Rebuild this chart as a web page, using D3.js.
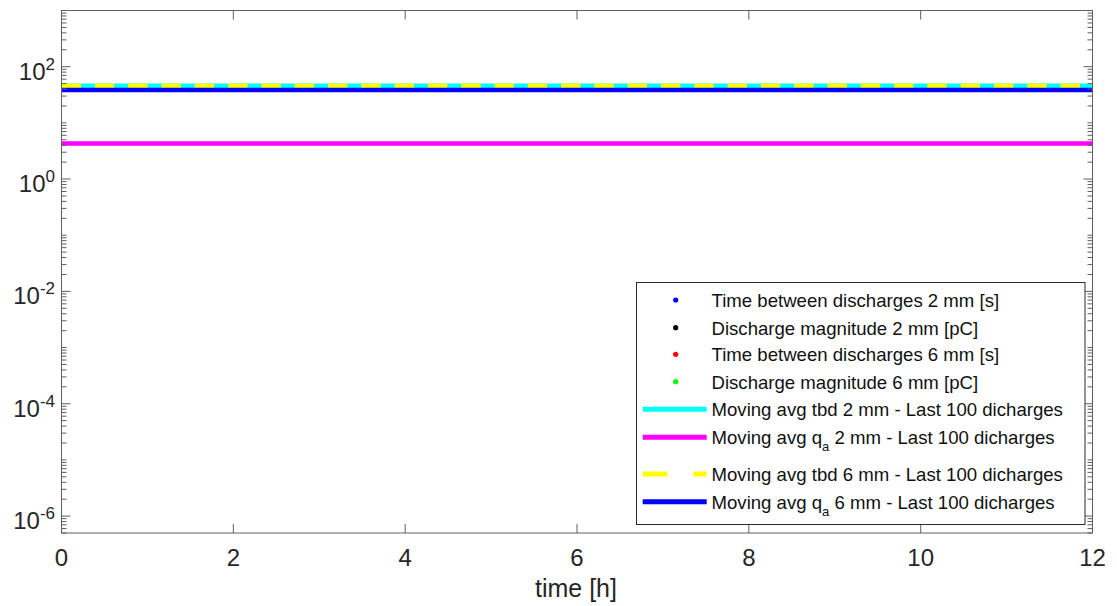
<!DOCTYPE html>
<html>
<head>
<meta charset="utf-8">
<script src="https://cdn.jsdelivr.net/npm/d3@7"></script>
<style>
  body { margin: 0; background: #fff; }
  svg { display: block; font-family: "Liberation Sans", Arial, sans-serif; }
</style>
</head>
<body>
<div id="chart"></div>
<script>
// Data
const timeHours = [0, 12];
const tbd2mm = [];          // scatter series, no visible points
const q2mm = [];
const tbd6mm = [];
const q6mm = [];
const avgTbd2mm = [45.9, 45.9];
const avgQa2mm = [4.27, 4.27];
const avgTbd6mm = [45.9, 45.9];
const avgQa6mm = [38.5, 38.5];

const xTickValues = [0, 2, 4, 6, 8, 10, 12];
const yTickExponents = [-6, -4, -2, 0, 2];
const yDomain = [5e-7, 1e3];

const legendLabels = [
  "Time between discharges 2 mm [s]",
  "Discharge magnitude 2 mm [pC]",
  "Time between discharges 6 mm [s]",
  "Discharge magnitude 6 mm [pC]",
  "Moving avg tbd 2 mm - Last 100 dicharges",
  "Moving avg q_a 2 mm - Last 100 dicharges",
  "Moving avg tbd 6 mm - Last 100 dicharges",
  "Moving avg q_a 6 mm - Last 100 dicharges"
];

// Chart config
const config = {
  width: 1117,
  height: 606,
  left: 61.5, right: 1092.5, top: 10.5, bottom: 533
};

const svg = d3.select('#chart')
  .append('svg')
  .attr('width', config.width)
  .attr('height', config.height);

const x = d3.scaleLinear().domain([0, 12]).range([config.left, config.right]);
const y = d3.scaleLog().domain(yDomain).range([config.bottom, config.top]);

// series: data + style
const series = [
  { name: legendLabels[0], values: tbd2mm, type: 'dot', color: '#0000ff' },
  { name: legendLabels[1], values: q2mm, type: 'dot', color: '#000000' },
  { name: legendLabels[2], values: tbd6mm, type: 'dot', color: '#ff0000' },
  { name: legendLabels[3], values: q6mm, type: 'dot', color: '#00ff00' },
  { name: legendLabels[4], values: avgTbd2mm, type: 'line', color: '#00ffff' },
  { name: legendLabels[5], values: avgQa2mm, type: 'line', color: '#ff00ff' },
  { name: legendLabels[6], values: avgTbd6mm, type: 'dash', color: '#ffff00' },
  { name: legendLabels[7], values: avgQa6mm, type: 'line', color: '#0000ff' }
];

const plot = svg.append('g');

plot.append('clipPath').attr('id', 'clip')
  .append('rect')
  .attr('x', config.left).attr('y', config.top)
  .attr('width', config.right - config.left)
  .attr('height', config.bottom - config.top);

const lineGen = d3.line()
  .x((d, i) => x(timeHours[i]))
  .y(d => y(d));

const marks = plot.append('g').attr('clip-path', 'url(#clip)');

series.forEach(s => {
  if (s.type === 'dot') {
    marks.selectAll(null)
      .data(s.values)
      .enter()
      .append('circle')
      .attr('cx', d => x(d[0]))
      .attr('cy', d => y(d[1]))
      .attr('r', 2.5)
      .attr('fill', s.color);
  } else {
    marks.append('path')
      .datum(s.values)
      .attr('d', lineGen)
      .attr('fill', 'none')
      .attr('stroke', s.color)
      .attr('stroke-width', 4.5)
      .attr('stroke-dasharray', s.type === 'dash' ? '19.5,13.8' : null);
  }
});

// axes box
const axisColor = '#5f5f5f';
const textColor = '#262626';

plot.append('rect')
  .attr('x', config.left).attr('y', config.top)
  .attr('width', config.right - config.left)
  .attr('height', config.bottom - config.top)
  .attr('fill', 'none')
  .attr('stroke', axisColor)
  .attr('stroke-width', 1);

// x ticks (inside, bottom and top)
const majorLen = 9, minorLen = 5;
const xt = plot.append('g').attr('stroke', axisColor).attr('stroke-width', 1);
xTickValues.forEach(v => {
  xt.append('line').attr('x1', x(v)).attr('x2', x(v))
    .attr('y1', config.bottom).attr('y2', config.bottom - majorLen);
  xt.append('line').attr('x1', x(v)).attr('x2', x(v))
    .attr('y1', config.top).attr('y2', config.top + majorLen);
});

plot.append('g').selectAll('text')
  .data(xTickValues)
  .enter()
  .append('text')
  .attr('x', d => x(d))
  .attr('y', 565.5)
  .attr('text-anchor', 'middle')
  .attr('fill', textColor)
  .style('font-size', '24px')
  .text(d => d);

// y ticks (log, inside, left and right)
const yMajor = yTickExponents.map(e => Math.pow(10, e));
const yMinor = y.ticks().filter(v => {
  const isMajor = yMajor.some(m => Math.abs(v - m) / m < 1e-9);
  return !isMajor && v >= yDomain[0] && v <= yDomain[1];
});

const yt = plot.append('g').attr('stroke', axisColor).attr('stroke-width', 1);
yMinor.forEach(v => {
  yt.append('line').attr('x1', config.left).attr('x2', config.left + minorLen)
    .attr('y1', y(v)).attr('y2', y(v));
  yt.append('line').attr('x1', config.right).attr('x2', config.right - minorLen)
    .attr('y1', y(v)).attr('y2', y(v));
});
yMajor.forEach(v => {
  yt.append('line').attr('x1', config.left).attr('x2', config.left + majorLen)
    .attr('y1', y(v)).attr('y2', y(v));
  yt.append('line').attr('x1', config.right).attr('x2', config.right - majorLen)
    .attr('y1', y(v)).attr('y2', y(v));
});

const yLabels = plot.append('g').selectAll('text')
  .data(yTickExponents)
  .enter()
  .append('text')
  .attr('x', 55)
  .attr('y', d => y(Math.pow(10, d)) + 13)
  .attr('text-anchor', 'end')
  .attr('fill', textColor)
  .style('font-size', '24px');
yLabels.append('tspan').text('10');
yLabels.append('tspan')
  .attr('dy', -10)
  .style('font-size', '17px')
  .text(d => d);

// x label
svg.append('text')
  .attr('x', 576)
  .attr('y', 597)
  .attr('text-anchor', 'middle')
  .attr('fill', textColor)
  .style('font-size', '25px')
  .text('time [h]');

// legend
const legendRows = [300, 327.7, 354.3, 381.7, 409.3, 437.3, 474, 501.7];
const legend = svg.append('g');
legend.append('rect')
  .attr('x', 636.5).attr('y', 282.5)
  .attr('width', 448.5).attr('height', 242)
  .attr('fill', '#fff')
  .attr('stroke', '#2b2b2b')
  .attr('stroke-width', 1);

series.forEach((s, i) => {
  const ly = legendRows[i];
  if (s.type === 'dot') {
    legend.append('circle')
      .attr('cx', 675.7).attr('cy', ly).attr('r', 2.6)
      .attr('fill', s.color);
  } else {
    legend.append('line')
      .attr('x1', 642.7).attr('x2', 706.7)
      .attr('y1', ly).attr('y2', ly)
      .attr('stroke', s.color)
      .attr('stroke-width', 5)
      .attr('stroke-dasharray', s.type === 'dash' ? '24.6,26' : null);
  }
  const t = legend.append('text')
    .attr('x', 711.5)
    .attr('y', ly + 7)
    .attr('fill', '#111')
    .style('font-size', '18.6px');
  const parts = s.name.split('_');
  if (parts.length === 1) {
    t.text(s.name);
  } else {
    // subscript: first char after "_"
    t.append('tspan').text(parts[0]);
    t.append('tspan').attr('dy', 7).style('font-size', '13px').text(parts[1][0]);
    t.append('tspan').attr('dy', -7).text(parts[1].slice(1));
  }
});
</script>
</body>
</html>
